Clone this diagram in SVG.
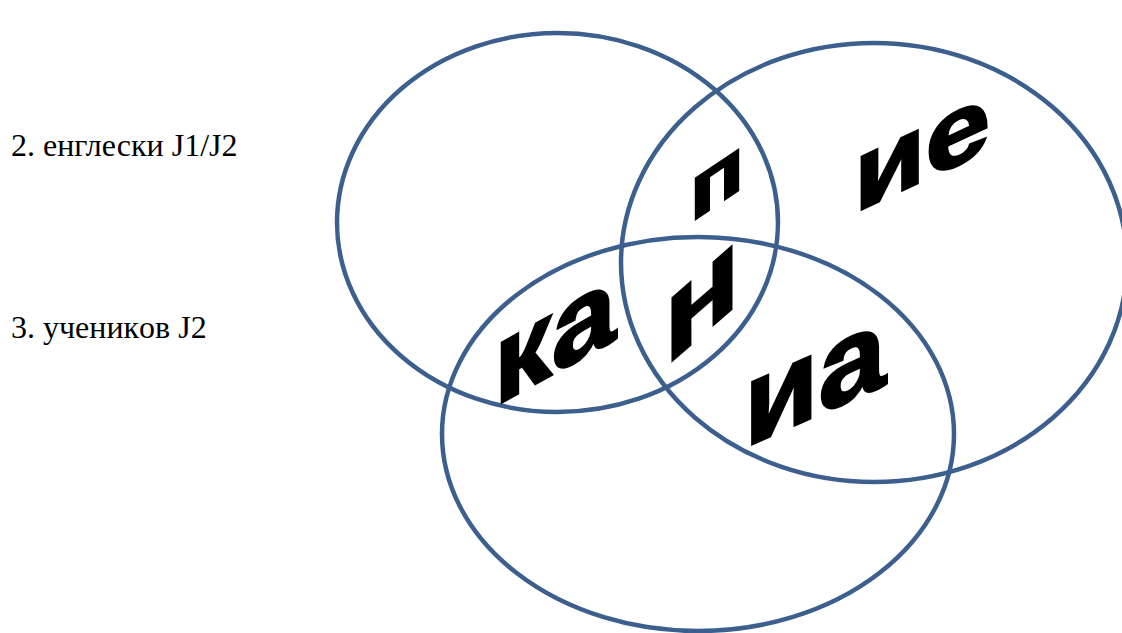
<svg xmlns="http://www.w3.org/2000/svg" width="1122" height="633" viewBox="0 0 1122 633">
<style>
.ring{fill:none;stroke:#3c5f8e;stroke-width:4.5}
.wa{font-weight:bold;fill:#000;stroke:#000;stroke-width:2.5;stroke-linejoin:miter}
</style>
<rect width="1122" height="633" fill="#fff"/>
<g id="labels">
<text x="11" y="156" font-size="32" font-family="Liberation Serif">2. енглески J1/J2</text>
<text x="11" y="338" font-size="32" font-family="Liberation Serif">3. ученикoв J2</text>
</g>
<g id="circle-1"><ellipse class="ring" cx="557.5" cy="222.5" rx="220.5" ry="189.5"/></g>
<g id="circle-2"><ellipse class="ring" cx="874" cy="262.5" rx="253" ry="219.5"/></g>
<g id="circle-3"><ellipse class="ring" cx="698" cy="434" rx="256" ry="197"/></g>
<g id="wordart">
<text class="wa" font-family="Arial, sans-serif" font-size="114" textLength="122" lengthAdjust="spacingAndGlyphs" transform="translate(494,407) skewY(-29)">ка</text>
<text class="wa" font-family="Arial, sans-serif" font-size="77" textLength="54" lengthAdjust="spacingAndGlyphs" transform="translate(690,223) skewY(-34)">п</text>
<text class="wa" font-family="Arial, sans-serif" font-size="119" textLength="76" lengthAdjust="spacingAndGlyphs" transform="translate(664,368) skewY(-41)">н</text>
<text class="wa" font-family="Arial, sans-serif" font-size="118" textLength="142" lengthAdjust="spacingAndGlyphs" transform="translate(744,448) skewY(-24)">иа</text>
<text class="wa" font-family="Arial, sans-serif" font-size="100" textLength="136" lengthAdjust="spacingAndGlyphs" transform="translate(854,213) skewY(-25)">ие</text>
</g>
</svg>
